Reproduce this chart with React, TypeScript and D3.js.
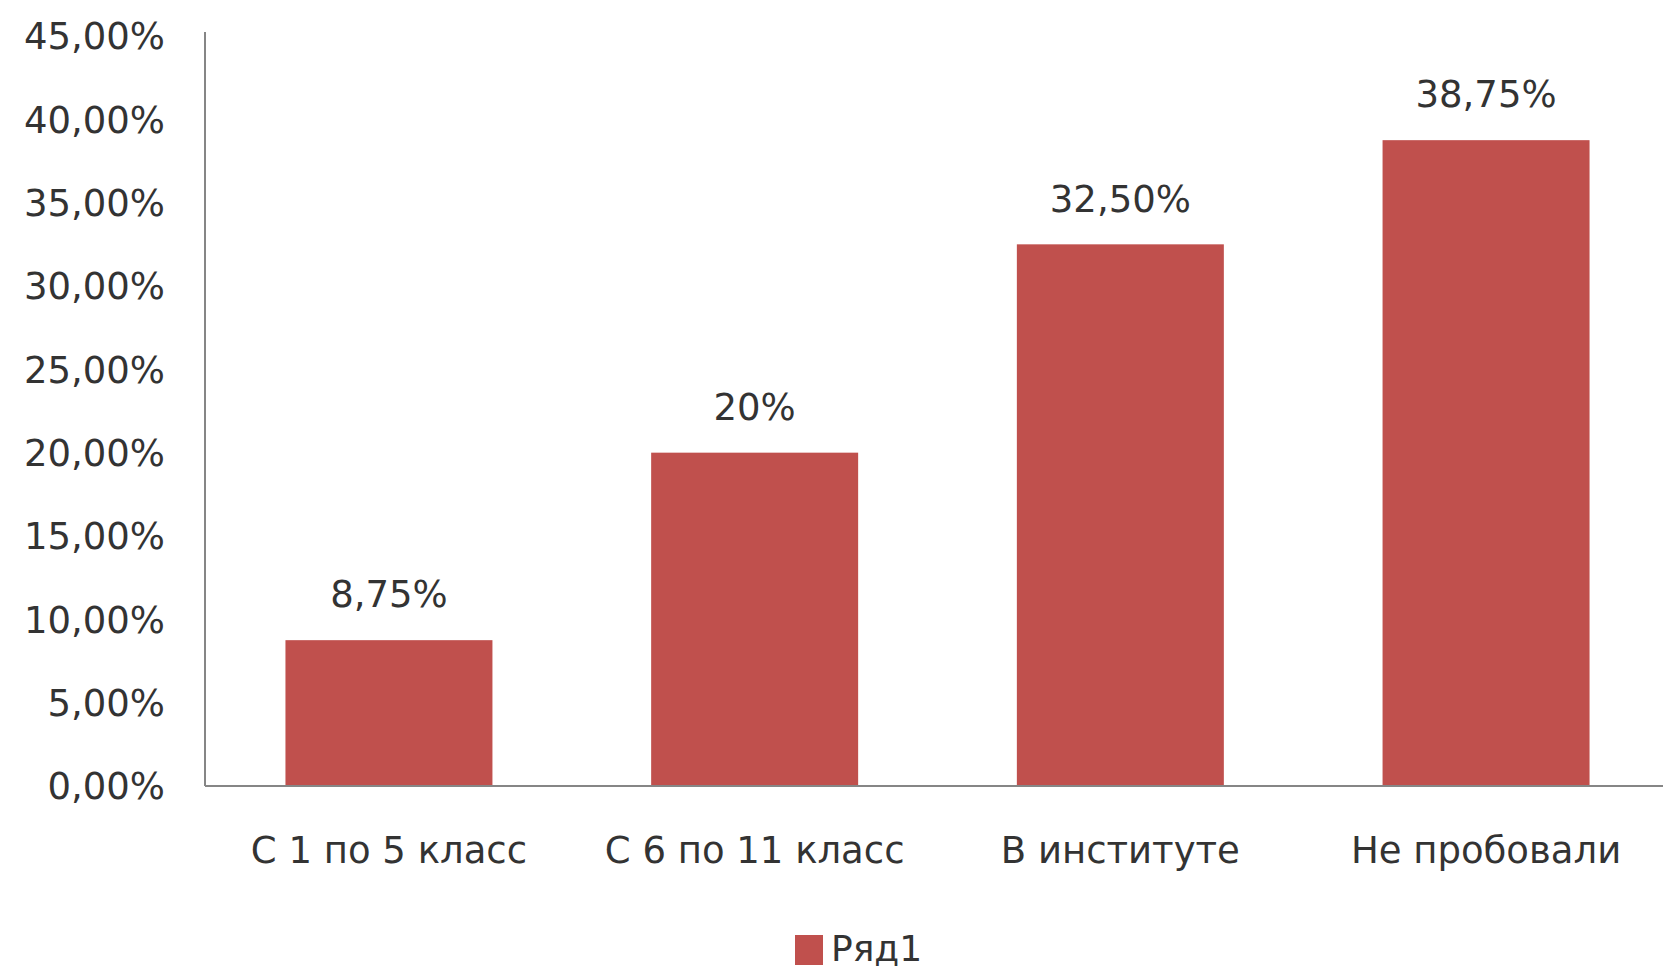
import React from 'react';
import * as d3 from 'd3';

const categories = ['С 1 по 5 класс', 'С 6 по 11 класс', 'В институте', 'Не пробовали'];
const values = [8.75, 20, 32.5, 38.75];
const valueLabels = ['8,75%', '20%', '32,50%', '38,75%'];
const yTicks = [0, 5, 10, 15, 20, 25, 30, 35, 40, 45];
const seriesName = 'Ряд1';

const W = 1663;
const H = 971;
const margin = { top: 36, right: -7, bottom: 185, left: 205 };
const barColor = '#C0504D';
const textColor = '#333';
const font = 'DejaVu Sans, Verdana, sans-serif';

const fmtTick = (d: number) => d.toFixed(2).replace('.', ',') + '%';

export default function App() {
  const x = d3.scaleBand<string>()
    .domain(categories)
    .range([margin.left, W - margin.right])
    .paddingInner(0.434)
    .paddingOuter(0.22);
  const y = d3.scaleLinear().domain([0, 45]).range([H - margin.bottom, margin.top]);
  const base = y(0);

  return (
    <svg width={W} height={H} style={{ position: 'absolute', left: 0, top: 0, background: '#fff' }}
      fontFamily={font}>
      {/* y ticks */}
      {yTicks.map(t => (
        <text key={t} x={margin.left - 40} y={y(t)} dy="0.36em" textAnchor="end"
          fontSize={37} fill={textColor}>{fmtTick(t)}</text>
      ))}

      {/* bars */}
      {categories.map((c, i) => (
        <g key={c}>
          <rect x={x(c)} y={y(values[i])} width={x.bandwidth()} height={base - y(values[i])} fill={barColor} />
          <text x={(x(c) as number) + x.bandwidth() / 2} y={y(values[i]) - 46} dy="0.36em"
            textAnchor="middle" fontSize={37} fill={textColor}>{valueLabels[i]}</text>
          <text x={(x(c) as number) + x.bandwidth() / 2} y={base + 64} dy="0.36em"
            textAnchor="middle" fontSize={37} fill={textColor}>{c}</text>
        </g>
      ))}

      {/* axes */}
      <line x1={margin.left} x2={margin.left} y1={margin.top - 4} y2={base} stroke="#868686" strokeWidth={2} />
      <line x1={margin.left} x2={W} y1={base} y2={base} stroke="#868686" strokeWidth={2} />

      {/* legend */}
      <rect x={795} y={935} width={28} height={30} fill={barColor} />
      <text x={831} y={948} dy="0.36em" fontSize={36} fill={textColor}>{seriesName}</text>
    </svg>
  );
}
